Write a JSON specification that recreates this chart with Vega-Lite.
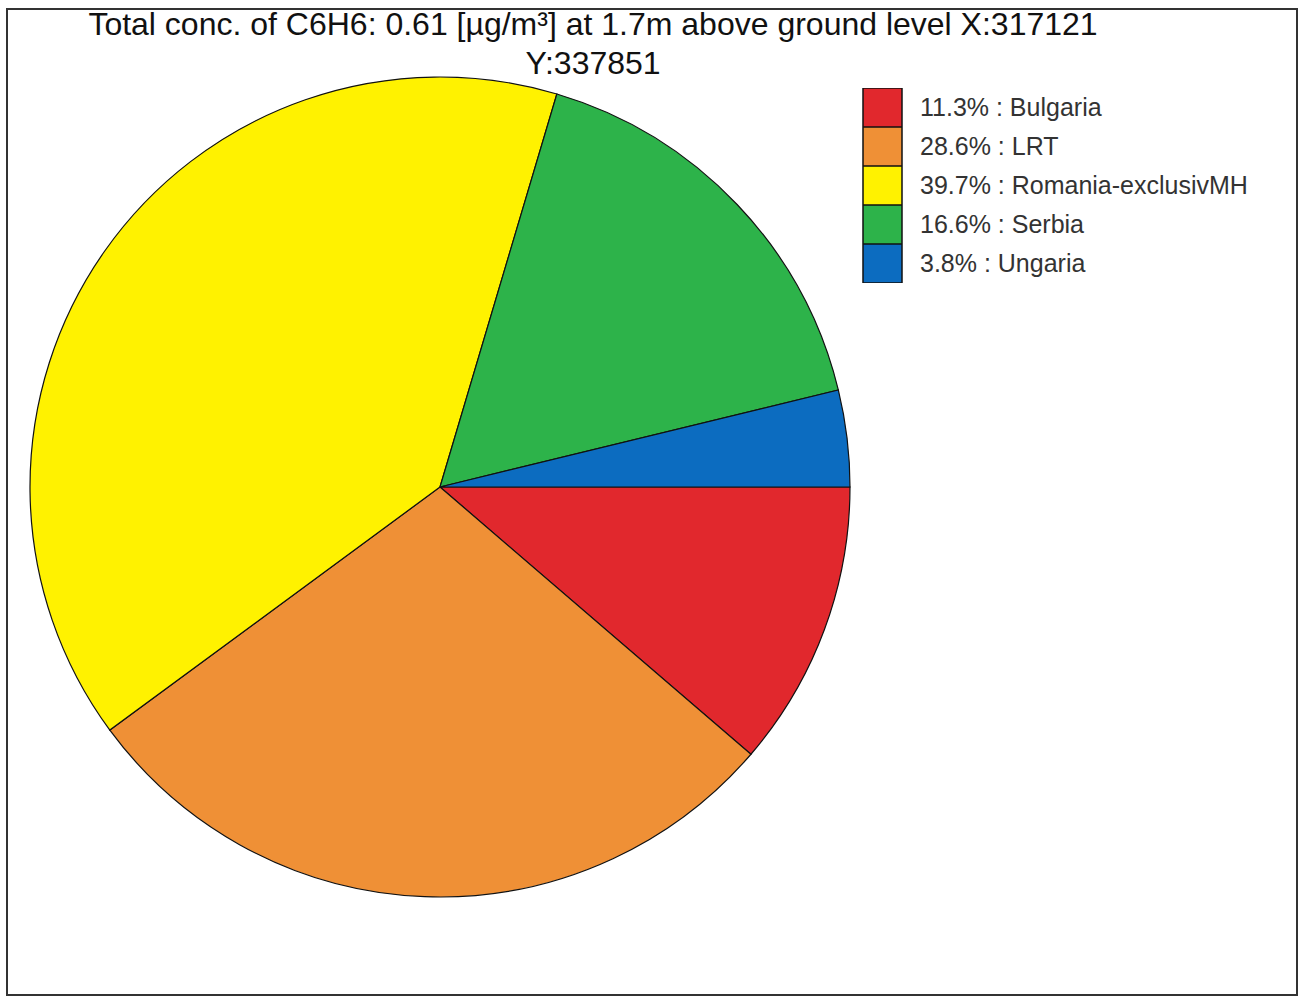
{
  "$schema": "https://vega.github.io/schema/vega-lite/v6.json",
  "autosize": "none",
  "width": 1290,
  "height": 986,
  "padding": {"left": 7, "top": 9, "right": 8, "bottom": 2},
  "background": "white",
  "config": {
    "view": {"stroke": null},
    "font": "Liberation Sans"
  },
  "title": {
    "text": ["Total conc. of C6H6: 0.61 [µg/m³] at 1.7m above ground level  X:317121", "Y:337851"],
    "orient": "top",
    "anchor": "middle",
    "baseline": "bottom",
    "offset": -105,
    "dx": -59,
    "fontSize": 32,
    "fontWeight": "normal",
    "font": "Liberation Sans",
    "color": "#111111",
    "lineHeight": 39
  },
  "layer": [
    {
      "data": {"values": [{"frame": 1}]},
      "mark": {"type": "rect", "fill": "white", "fillOpacity": 0, "stroke": "#333333", "strokeWidth": 2},
      "encoding": {}
    },
    {
      "data": {
        "values": [
          {"source": "Bulgaria", "label": "11.3% : Bulgaria", "pct": 11.3, "ord": 1},
          {"source": "LRT", "label": "28.6% : LRT", "pct": 28.6, "ord": 2},
          {"source": "Romania-exclusivMH", "label": "39.7% : Romania-exclusivMH", "pct": 39.7, "ord": 3},
          {"source": "Serbia", "label": "16.6% : Serbia", "pct": 16.6, "ord": 4},
          {"source": "Ungaria", "label": "\u00a03.8% : Ungaria", "pct": 3.8, "ord": 5}
        ]
      },
      "mark": {
        "type": "arc",
        "x": 433,
        "y": 478,
        "radius": 410,
        "stroke": "#111111",
        "strokeWidth": 1.2,
        "opacity": 1
      },
      "encoding": {
        "theta": {
          "field": "pct",
          "type": "quantitative",
          "stack": true,
          "scale": {"range": [1.5707963, 7.8539816]}
        },
        "order": {"field": "ord", "type": "quantitative"},
        "color": {
          "field": "label",
          "type": "nominal",
          "sort": null,
          "scale": {
            "domain": ["11.3% : Bulgaria", "28.6% : LRT", "39.7% : Romania-exclusivMH", "16.6% : Serbia", "\u00a03.8% : Ungaria"],
            "range": ["#E1282D", "#EF9036", "#FFF200", "#2DB34A", "#0C6CC0"]
          },
          "legend": {
            "title": null,
            "orient": "none",
            "legendX": 855,
            "legendY": 79,
            "padding": 0,
            "symbolType": "square",
            "symbolSize": 1521,
            "symbolStrokeColor": "#111111",
            "symbolStrokeWidth": 1.5,
            "symbolOpacity": 1,
            "rowPadding": 0,
            "clipHeight": 39,
            "labelFontSize": 25,
            "labelFont": "Liberation Sans",
            "labelColor": "#333333",
            "labelOffset": 17,
            "labelLimit": 500
          }
        }
      }
    }
  ]
}
